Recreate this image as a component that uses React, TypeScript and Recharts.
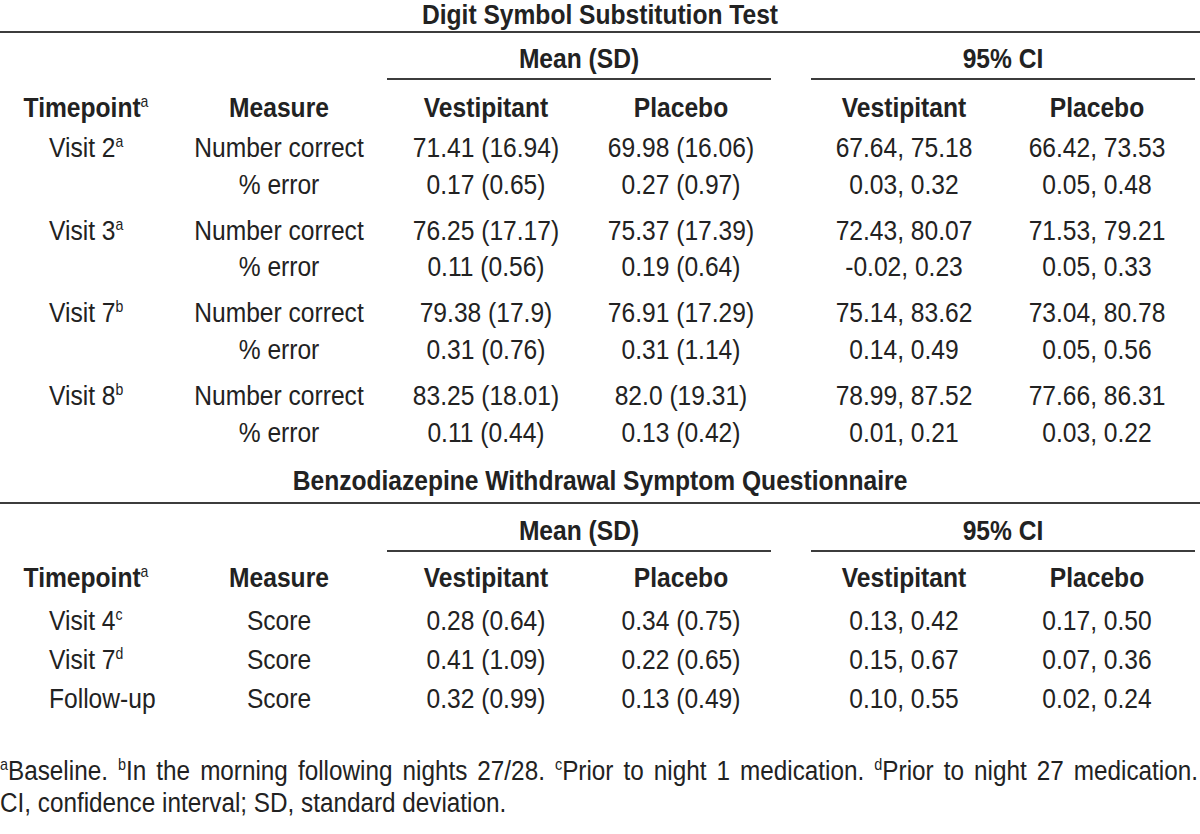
import React, { useLayoutEffect, useRef, useState } from 'react';
import { ScatterChart, Scatter, XAxis, YAxis, ReferenceLine } from 'recharts';

// ---------- data ----------
const dsstTitle = 'Digit Symbol Substitution Test';
const bwsqTitle = 'Benzodiazepine Withdrawal Symptom Questionnaire';
const groupHeaders = ['Mean (SD)', '95% CI'];
const columnHeaders = ['Timepoint', 'Measure', 'Vestipitant', 'Placebo', 'Vestipitant', 'Placebo'];
const headerNote = 'a';

const dsstTimepoints = ['Visit 2', 'Visit 3', 'Visit 7', 'Visit 8'];
const dsstTimepointNotes = ['a', 'a', 'b', 'b'];
const dsstMeasures = ['Number correct', '% error'];
const dsstVestipitantMean = ['71.41 (16.94)', '0.17 (0.65)', '76.25 (17.17)', '0.11 (0.56)', '79.38 (17.9)', '0.31 (0.76)', '83.25 (18.01)', '0.11 (0.44)'];
const dsstPlaceboMean = ['69.98 (16.06)', '0.27 (0.97)', '75.37 (17.39)', '0.19 (0.64)', '76.91 (17.29)', '0.31 (1.14)', '82.0 (19.31)', '0.13 (0.42)'];
const dsstVestipitantCI = ['67.64, 75.18', '0.03, 0.32', '72.43, 80.07', '-0.02, 0.23', '75.14, 83.62', '0.14, 0.49', '78.99, 87.52', '0.01, 0.21'];
const dsstPlaceboCI = ['66.42, 73.53', '0.05, 0.48', '71.53, 79.21', '0.05, 0.33', '73.04, 80.78', '0.05, 0.56', '77.66, 86.31', '0.03, 0.22'];

const bwsqTimepoints = ['Visit 4', 'Visit 7', 'Follow-up'];
const bwsqTimepointNotes = ['c', 'd', ''];
const bwsqMeasure = 'Score';
const bwsqVestipitantMean = ['0.28 (0.64)', '0.41 (1.09)', '0.32 (0.99)'];
const bwsqPlaceboMean = ['0.34 (0.75)', '0.22 (0.65)', '0.13 (0.49)'];
const bwsqVestipitantCI = ['0.13, 0.42', '0.15, 0.67', '0.10, 0.55'];
const bwsqPlaceboCI = ['0.17, 0.50', '0.07, 0.36', '0.02, 0.24'];

const footnoteNotes = ['a', 'b', 'c', 'd'];
const footnoteTexts = ['Baseline.', 'In the morning following nights 27/28.', 'Prior to night 1 medication.', 'Prior to night 27 medication.'];
const footnoteLine2 = 'CI, confidence interval; SD, standard deviation.';

// ---------- layout ----------
const W = 1200;
const H = 834;
const FS = 28;
const SX = (0.82 * 30) / FS; // condensed face
const FOOT_FS = 27;
const FOOT_SX = 0.9;
const FONT = "'Liberation Sans', Arial, Helvetica, sans-serif";
const INK = '#222';
const RULE = '#3c3c3c';

const COL = { timeHead: 86, timeVal: 49, measure: 279, vm: 486, pm: 681, vc: 904, pc: 1097 };
const GROUP = [{ c: 579, x1: 387, x2: 771 }, { c: 1003, x1: 811, x2: 1195 }];

const S1 = { title: 24, rule: 32, group: 68, groupRule: 79, header: 117 };
const S2 = { title: 490, rule: 503, group: 540, groupRule: 551, header: 587 };
const s1Row = (i: number) => 157 + Math.floor(i / 2) * 82.7 + (i % 2) * 36.5;
const s2Row = (i: number) => 630 + i * 39;
const FOOT = [780, 812];

type Cell = { x: number; y: number; text: string; sup?: string; bold?: boolean; anchor?: string; size?: number; sx?: number; kind?: string };

const cells: Cell[] = [];
function addSection(s: typeof S1, title: string) {
  cells.push({ x: 600, y: s.title, text: title, bold: true, anchor: 'middle' });
  groupHeaders.forEach((g, i) => cells.push({ x: GROUP[i].c, y: s.group, text: g, bold: true, anchor: 'middle' }));
  const hx = [COL.timeHead, COL.measure, COL.vm, COL.pm, COL.vc, COL.pc];
  columnHeaders.forEach((h, i) =>
    cells.push({ x: hx[i], y: s.header, text: h, bold: true, anchor: 'middle', sup: i === 0 ? headerNote : undefined })
  );
}
addSection(S1, dsstTitle);
dsstVestipitantMean.forEach((_, i) => {
  const y = s1Row(i);
  if (i % 2 === 0) {
    cells.push({ x: COL.timeVal, y, text: dsstTimepoints[i / 2], sup: dsstTimepointNotes[i / 2], anchor: 'start' });
  }
  cells.push({ x: COL.measure, y, text: dsstMeasures[i % 2], anchor: 'middle' });
  cells.push({ x: COL.vm, y, text: dsstVestipitantMean[i], anchor: 'middle' });
  cells.push({ x: COL.pm, y, text: dsstPlaceboMean[i], anchor: 'middle' });
  cells.push({ x: COL.vc, y, text: dsstVestipitantCI[i], anchor: 'middle' });
  cells.push({ x: COL.pc, y, text: dsstPlaceboCI[i], anchor: 'middle' });
});
addSection(S2, bwsqTitle);
bwsqTimepoints.forEach((t, i) => {
  const y = s2Row(i);
  cells.push({ x: COL.timeVal, y, text: t, sup: bwsqTimepointNotes[i] || undefined, anchor: 'start' });
  cells.push({ x: COL.measure, y, text: bwsqMeasure, anchor: 'middle' });
  cells.push({ x: COL.vm, y, text: bwsqVestipitantMean[i], anchor: 'middle' });
  cells.push({ x: COL.pm, y, text: bwsqPlaceboMean[i], anchor: 'middle' });
  cells.push({ x: COL.vc, y, text: bwsqVestipitantCI[i], anchor: 'middle' });
  cells.push({ x: COL.pc, y, text: bwsqPlaceboCI[i], anchor: 'middle' });
});
cells.push({ x: 0, y: FOOT[0], text: '', kind: 'foot1' });
cells.push({ x: 0, y: FOOT[1], text: footnoteLine2, anchor: 'start', size: FOOT_FS, sx: FOOT_SX });

const rules = [
  { y: S1.rule, x1: 0, x2: W },
  { y: S2.rule, x1: 0, x2: W },
  ...GROUP.map((g) => ({ y: S1.groupRule, x1: g.x1, x2: g.x2 })),
  ...GROUP.map((g) => ({ y: S2.groupRule, x1: g.x1, x2: g.x2 })),
];

function JustifiedFootnote({ x, y }: { x: number; y: number }) {
  const ref = useRef<SVGTextElement>(null);
  const [ws, setWs] = useState(0);
  useLayoutEffect(() => {
    if (!ref.current || ws !== 0) return;
    const len = ref.current.getComputedTextLength();
    const full = footnoteNotes.map((n, i) => n + footnoteTexts[i]).join(' ');
    const spaces = (full.match(/ /g) || []).length;
    const target = 1198 / FOOT_SX;
    setWs((target - len) / spaces);
  });
  return (
    <text
      ref={ref}
      transform={`translate(${x},${y}) scale(${FOOT_SX},1)`}
      fontFamily={FONT}
      fontSize={FOOT_FS}
      fill={INK}
      style={{ wordSpacing: `${ws}px` }}
    >
      {footnoteNotes.map((n, i) => (
        <React.Fragment key={i}>
          <tspan fontSize={16} dy={-10}>{n}</tspan>
          <tspan dy={10}>{footnoteTexts[i] + (i < footnoteNotes.length - 1 ? ' ' : '')}</tspan>
        </React.Fragment>
      ))}
    </text>
  );
}

function CellShape(props: any) {
  const { cx, cy, payload } = props;
  const c: Cell = payload;
  if (c.kind === 'foot1') return <JustifiedFootnote x={cx} y={cy} />;
  return (
    <text
      transform={`translate(${cx},${cy}) scale(${c.sx || SX},1)`}
      textAnchor={c.anchor || 'middle'}
      fontFamily={FONT}
      fontSize={c.size || FS}
      fontWeight={c.bold ? 700 : 400}
      fill={INK}
    >
      {c.text}
      {c.sup ? (
        <tspan fontSize={16} fontWeight={400} dy={-10}>
          {c.sup}
        </tspan>
      ) : null}
    </text>
  );
}

export default function App() {
  return (
    <div style={{ position: 'absolute', left: 0, top: 0, width: W, height: H, background: '#fff' }}>
      <ScatterChart width={W} height={H} margin={{ top: 0, right: 0, bottom: 0, left: 0 }}>
        <XAxis type="number" dataKey="x" domain={[0, W]} hide allowDataOverflow />
        <YAxis type="number" dataKey="y" domain={[0, H]} reversed hide allowDataOverflow />
        {rules.map((r, i) => (
          <ReferenceLine
            key={i}
            segment={[{ x: r.x1, y: r.y }, { x: r.x2, y: r.y }]}
            stroke={RULE}
            strokeWidth={2}
            ifOverflow="visible"
          />
        ))}
        <Scatter data={cells} shape={CellShape} isAnimationActive={false} />
      </ScatterChart>
    </div>
  );
}
